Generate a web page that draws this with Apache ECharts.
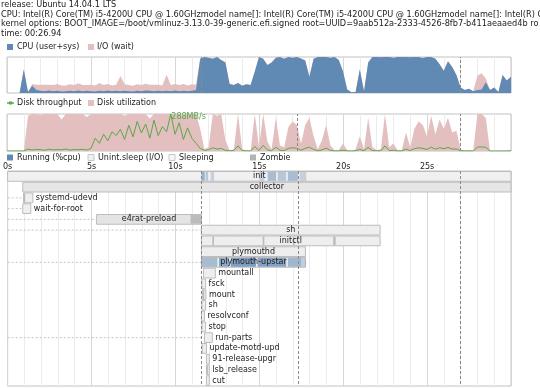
<!DOCTYPE html>
<html><head><meta charset="utf-8">
<script src="https://cdn.jsdelivr.net/npm/echarts/dist/echarts.min.js"></script>
<style>html,body{margin:0;padding:0;background:#fff}#c{width:540px;height:388px}</style>
</head><body><div id="c"></div>
<script>
// ---------- header ----------
const headerLines = [
  'release: Ubuntu 14.04.1 LTS',
  'CPU: Intel(R) Core(TM) i5-4200U CPU @ 1.60GHzmodel name[]: Intel(R) Core(TM) i5-4200U CPU @ 1.60GHzmodel name[]: Intel(R) C',
  'kernel options: BOOT_IMAGE=/boot/vmlinuz-3.13.0-39-generic.efi.signed root=UUID=9aab512a-2333-4526-8fb7-b411aeaaed4b ro',
  'time: 00:26.94'
];
// ---------- samples (every 0.25 s, 0..30 s) ----------
const sampleStep = 0.25;
const cpuUserSys = [0,0,0,0,65,3,20,8,
 6,5,7,5,6,4,5,6,5,7,
 5,6,5,4,6,5,7,5,6,5,
 6,5,4,6,5,7,6,5,6,5,
 6,5,7,5,6,5,6,8,
 95,100,98,95,100,92,85,25,22,28,20,24,22,60,
 100,95,78,85,98,100,95,100,98,100,
 96,90,45,95,100,100,100,98,100,92,
 60,10,2,3,65,5,85,100,
 100,99,100,100,98,100,100,100,99,100,100,97,100,100,
 95,80,62,88,72,50,15,8,12,5,
 8,10,30,8,15,3,50,35,45];
const ioWait = [0,0,0,0,0,0,5,15,
 17,18,16,17,19,17,16,18,17,20,
 17,16,18,17,22,17,18,16,17,42,
 18,17,16,18,17,19,17,18,17,16,
 45,17,18,17,19,16,18,15,
 0,0,0,0,0,0,0,0,0,0,0,0,0,0,
 0,0,0,0,0,0,0,0,0,0,
 0,0,0,0,0,0,0,0,0,0,
 0,0,0,0,0,0,0,0,
 0,0,0,0,0,0,0,0,0,0,0,0,0,0,
 0,0,0,0,0,0,0,0,0,0,
 40,45,10,0,0,0,0,0,0];
const diskUtil = [0,0,0,0,0,95,100,100,
 98,100,100,100,100,85,100,100,100,100,
 100,92,100,100,100,100,100,100,100,100,
 95,100,100,100,100,100,88,100,100,100,
 100,100,100,100,96,100,100,100,
 60,5,10,100,95,100,30,2,5,100,5,2,0,100,
 10,100,25,5,90,15,10,65,80,70,
 20,70,90,40,5,30,70,15,2,3,
 20,2,0,5,40,5,90,10,
 3,5,100,10,20,2,3,50,10,60,80,70,40,95,
 45,85,60,90,50,55,5,0,2,0,
 100,100,90,0,0,0,0,0,5];
const diskThroughput = [0,0,0,0,0,15,8,12,
 10,6,14,8,12,9,15,7,11,10,
 13,8,20,100,60,130,80,150,120,170,
 90,200,110,230,140,210,100,240,120,190,
 150,288,130,220,90,180,100,60,
 20,5,10,25,15,20,5,2,3,40,3,1,0,35,
 4,45,8,2,30,5,4,20,25,22,
 6,20,30,12,2,8,22,5,1,1,
 6,1,0,2,12,2,28,3,
 1,2,40,3,6,1,1,15,3,18,25,20,12,30,
 14,26,18,28,15,16,2,0,1,0,
 30,32,28,0,0,0,0,0,2];
const tickLabels = ['0s','5s','10s','15s','20s','25s'];
// ---------- processes ----------
const procNames = ['init','collector','systemd-udevd','wait-for-root','e4rat-preload','sh','initctl','plymouthd','plymouth-upstar','mountall','fsck','mount','sh','resolvconf','stop','run-parts','update-motd-upd','91-release-upgr','lsb_release','cut'];
const procStart = [0,0.9,0.95,0.9,5.3,11.55,11.55,11.55,11.55,11.67,11.58,11.6,11.58,11.55,11.58,11.73,11.6,11.85,11.85,11.85];
const procEnd   = [30,30,1.5,1.38,11.55,22.2,22.2,17.75,17.75,12.38,11.8,11.82,11.8,11.73,11.8,12.2,11.85,12.02,12.02,12.02];
const procFill  = ['#f0f0f0','#e6e6e6','#efefef','#efefef','#e4e4e4','#eeeeee','#eeeeee','#eeeeee','#eeeeee','#eeeeee','#eeeeee','#eeeeee','#eeeeee','#eeeeee','#eeeeee','#eeeeee','#eeeeee','#eeeeee','#eeeeee','#eeeeee'];
const runSegments = [[0,11.55,11.75,0.6],[0,11.8,11.95,0.4],[0,12.1,12.3,0.3],[0,15.0,15.3,0.3],[0,15.5,16.0,0.5],[0,16.1,16.6,0.4],[0,16.7,17.3,0.5],[0,17.4,17.8,0.3],
  [8,11.55,12.5,0.5],[8,12.6,13.2,0.7],[8,13.3,14.8,0.8],[8,14.9,16.6,0.75],[8,16.7,17.5,0.55],[8,17.5,17.75,0.3]];
const dsleepSegments = [[2,0.95,1.05],[4,10.9,11.55],[11,11.62,11.72],[18,11.85,11.92],[6,12.2,12.3],[6,15.2,15.3],[6,17.0,17.1],[6,19.4,19.55]];
const connectorRows = [2,3,4,5,8,15];
const cpuMarks = [11.55, 27.0];
const diskMarks = [17.3, 27.0];
const procMarks = [11.55, 17.3, 27.0];

const CPU_C = '#6089b4', IO_C = '#e4bfbf', TPUT_C = '#58a84a';
const FONT = 'DejaVu Sans';
const mctx = document.createElement('canvas').getContext('2d');
mctx.font = '8px "DejaVu Sans"';

const pts = arr => arr.map((v, i) => [i * sampleStep, v]);
// I/O wait is drawn stacked on top of CPU: its upper edge is cpu + io
const ioStackTop = cpuUserSys.map((v, i) => v + ioWait[i]);
const splitColors = ['#d6d6d6', '#ececec', '#ececec', '#ececec', '#ececec'];
function xAx(gi, extra) {
  return Object.assign({
    type: 'value', gridIndex: gi, min: 0, max: 30, interval: 1,
    axisLine: {show: false}, axisTick: {show: false}, axisLabel: {show: false},
    splitLine: {show: true, lineStyle: {color: splitColors, width: 1}}
  }, extra || {});
}
function marks(list) {
  return {silent: true, symbol: 'none', label: {show: false},
    lineStyle: {type: [3, 2], color: '#8a8a8a', width: 1},
    data: list.map(t => ({xAxis: t}))};
}

function renderProc(params, api) {
  const row = api.value(0), s = api.value(1), e = api.value(2);
  const a = api.coord([s, row]), b = api.coord([e, row + 1]);
  const x = a[0], y = a[1], w = Math.max(b[0] - a[0], 2), h = b[1] - a[1];
  const ch = [];
  if (connectorRows.indexOf(row) >= 0) {
    const c0 = api.coord([0, row + 0.5]);
    ch.push({type: 'line', shape: {x1: c0[0], y1: c0[1], x2: x, y2: c0[1]},
      style: {stroke: '#c4c4c4', lineWidth: 1, lineDash: [2, 2]}});
  }
  ch.push({type: 'rect', shape: {x: x, y: y + 0.5, width: w, height: h - 1},
    style: {fill: procFill[params.dataIndex], stroke: '#bdbdbd', lineWidth: 1}});
  dsleepSegments.forEach(sg => {
    if (sg[0] !== row) return;
    const p = api.coord([sg[1], row]), q = api.coord([sg[2], row + 1]);
    ch.push({type: 'rect', shape: {x: p[0], y: p[1] + 1, width: Math.max(q[0] - p[0], 1.5), height: q[1] - p[1] - 2},
      style: {fill: '#bcbcbc'}});
  });
  runSegments.forEach(sg => {
    if (sg[0] !== row) return;
    const p = api.coord([sg[1], row]), q = api.coord([sg[2], row + 1]);
    ch.push({type: 'rect', shape: {x: p[0], y: p[1] + 1, width: q[0] - p[0], height: q[1] - p[1] - 2},
      style: {fill: CPU_C, opacity: sg[3]}});
  });
  const name = procNames[params.dataIndex];
  const tw = mctx.measureText(name).width;
  const inside = tw + 4 < w;
  ch.push({type: 'text', x: inside ? x + w / 2 : x + w + 3, y: y + h / 2,
    style: {text: name, font: '8px "DejaVu Sans"', fill: '#222',
      align: inside ? 'center' : 'left', verticalAlign: 'middle',
      textAlign: inside ? 'center' : 'left', textVerticalAlign: 'middle'}});
  return {type: 'group', children: ch};
}

function txt(x, y, t, size) {
  const f = (size || 8) + 'px "DejaVu Sans"';
  return {type: 'text', x: x, y: y, silent: true,
    style: {text: t, font: f, fill: '#222', align: 'left', verticalAlign: 'middle', textAlign: 'left', textVerticalAlign: 'middle'}};
}
function box(x, y, fill, stroke) {
  return {type: 'rect', silent: true, shape: {x: x, y: y - 3, width: 6, height: 6},
    style: {fill: fill, stroke: stroke || null, lineWidth: stroke ? 1 : 0}};
}
const headerY = [5, 14.5, 24, 33.5];
const graphics = headerLines.map((l, i) => txt(1, headerY[i], l, 8.2));
graphics.push(box(7, 47, CPU_C), txt(17, 47, 'CPU (user+sys)'), box(88, 47, IO_C), txt(97, 47, 'I/O (wait)'));
graphics.push({type: 'line', silent: true, shape: {x1: 7, y1: 103, x2: 14, y2: 103}, style: {stroke: TPUT_C, lineWidth: 1.5}},
  {type: 'rect', silent: true, shape: {x: 9, y: 101.5, width: 3, height: 3}, style: {fill: TPUT_C}},
  txt(17, 103, 'Disk throughput'), box(88, 103, IO_C), txt(97, 103, 'Disk utilization'));
graphics.push(box(7, 157.5, CPU_C), txt(17, 157.5, 'Running (%cpu)'),
  box(88, 157.5, '#f0f0f0', '#c8c8c8'), txt(98, 157.5, 'Unint.sleep (I/O)'),
  box(169, 157.5, '#f6f6f6', '#c8c8c8'), txt(179, 157.5, 'Sleeping'),
  box(250, 157.5, '#b4b4b4'), txt(260, 157.5, 'Zombie'));

const gridBase = {left: 7, right: 29, show: true, borderColor: '#c2c2c2', borderWidth: 1, backgroundColor: '#fff'};
const option = {
  animation: false,
  backgroundColor: '#fff',
  textStyle: {fontFamily: FONT},
  grid: [
    Object.assign({top: 57, height: 36}, gridBase),
    Object.assign({top: 114, height: 37}, gridBase),
    Object.assign({top: 171, bottom: 2}, gridBase)
  ],
  xAxis: [
    xAx(0), xAx(1),
    xAx(2, {position: 'top', axisLabel: {show: true, margin: 0, fontSize: 8, color: '#222', fontFamily: FONT,
      formatter: v => (v % 5 === 0 && v / 5 < tickLabels.length) ? tickLabels[v / 5] : ''}})
  ],
  yAxis: [
    {type: 'value', gridIndex: 0, min: 0, max: 100, show: false},
    {type: 'value', gridIndex: 1, min: 0, max: 100, show: false},
    {type: 'value', gridIndex: 1, min: 0, max: 288, show: false},
    {type: 'value', gridIndex: 2, min: 0, max: procNames.length, inverse: true, show: false}
  ],
  graphic: graphics,
  series: [
    {name: 'I/O (wait)', type: 'line', xAxisIndex: 0, yAxisIndex: 0, data: pts(ioStackTop),
      symbol: 'none', lineStyle: {width: 0}, itemStyle: {color: IO_C}, areaStyle: {color: IO_C, opacity: 1}, z: 2},
    {name: 'CPU (user+sys)', type: 'line', xAxisIndex: 0, yAxisIndex: 0, data: pts(cpuUserSys),
      symbol: 'none', lineStyle: {width: 0}, itemStyle: {color: CPU_C}, areaStyle: {color: CPU_C, opacity: 1},
      markLine: marks(cpuMarks), z: 3},
    {name: 'Disk utilization', type: 'line', xAxisIndex: 1, yAxisIndex: 1, data: pts(diskUtil),
      symbol: 'none', lineStyle: {width: 0}, itemStyle: {color: IO_C}, areaStyle: {color: IO_C, opacity: 1},
      markLine: marks(diskMarks), z: 3},
    {name: 'Disk throughput', type: 'line', xAxisIndex: 1, yAxisIndex: 2, data: pts(diskThroughput),
      symbol: 'none', lineStyle: {width: 1, color: TPUT_C}, itemStyle: {color: TPUT_C}, z: 4,
      markPoint: {symbol: 'circle', symbolSize: 1, itemStyle: {color: 'rgba(0,0,0,0)'},
        label: {show: true, position: 'right', distance: 0, offset: [0, 3], color: TPUT_C, fontSize: 8, fontFamily: FONT,
          formatter: p => p.value + 'MB/s'},
        data: [{type: 'max', name: 'max'}]}},
    {name: 'processes', type: 'custom', xAxisIndex: 2, yAxisIndex: 3, clip: false,
      data: procNames.map((n, i) => [i, procStart[i], procEnd[i]]),
      encode: {x: [1, 2], y: 0}, renderItem: renderProc,
      markLine: marks(procMarks), z: 3}
  ]
};
const chart = echarts.init(document.getElementById('c'));
chart.setOption(option);
</script></body></html>
